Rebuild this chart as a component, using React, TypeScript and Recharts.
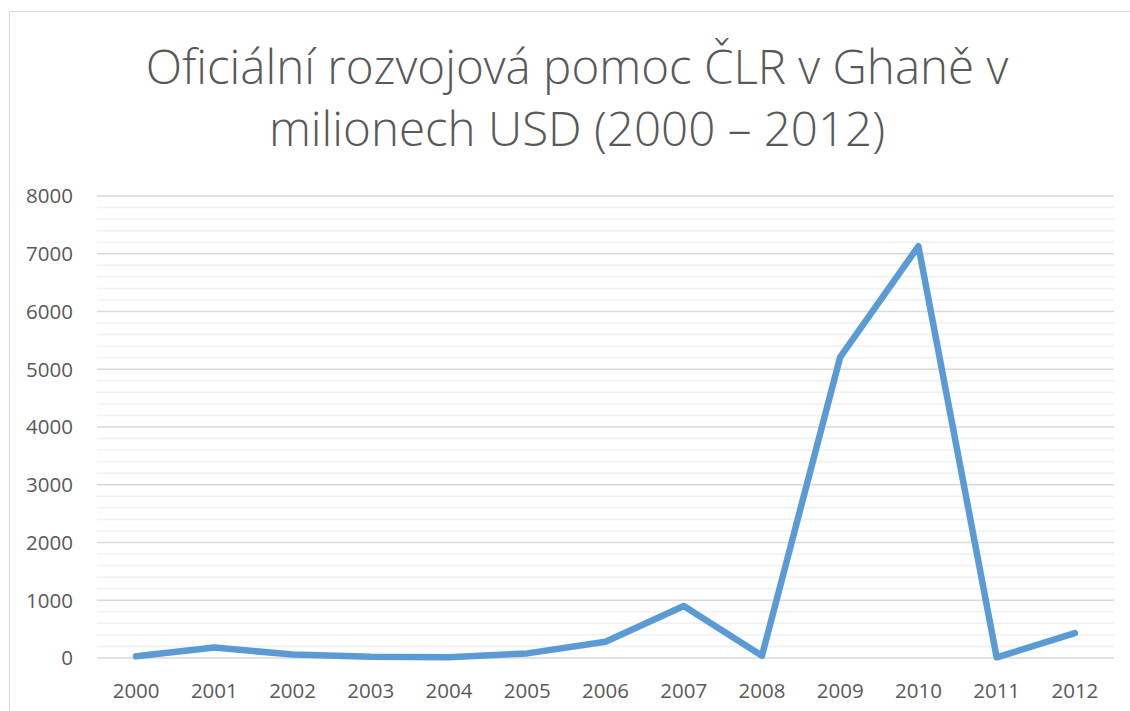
import React from 'react';
import { LineChart, Line, XAxis, YAxis, CartesianGrid, ReferenceLine } from 'recharts';

const years = ['2000', '2001', '2002', '2003', '2004', '2005', '2006', '2007', '2008', '2009', '2010', '2011', '2012'];
const aid = [30, 180, 60, 20, 15, 80, 280, 900, 40, 5210, 7130, 10, 430];
const majorTicks = [0, 1000, 2000, 3000, 4000, 5000, 6000, 7000, 8000];
const minorTicks = [200, 400, 600, 800, 1200, 1400, 1600, 1800, 2200, 2400, 2600, 2800, 3200, 3400, 3600, 3800, 4200, 4400, 4600, 4800, 5200, 5400, 5600, 5800, 6200, 6400, 6600, 6800, 7200, 7400, 7600, 7800];
const titleLines = ['Oficiální rozvojová pomoc ČLR v Ghaně v', 'milionech USD (2000 – 2012)'];

const data = years.map((y, i) => ({ year: y, value: aid[i] }));

const tickStyle = { fill: '#595959', fontSize: 20.5, fontFamily: '"Open Sans", sans-serif' };

export default function App() {
  return (
    <div style={{ position: 'absolute', left: 0, top: 0, width: 1130, height: 711, overflow: 'hidden', background: '#fff' }}>
      <div style={{ position: 'absolute', left: 9, top: 11, width: 1200, height: 800, border: '1.5px solid #d9d9d9', boxSizing: 'border-box' }} />
      <div style={{ position: 'absolute', left: 77, top: 35, width: 1000, textAlign: 'center', fontFamily: '"Open Sans", sans-serif', fontWeight: 300, fontSize: 47.5, lineHeight: '62px', color: '#595959' }}>
        {titleLines.map((t) => (
          <div key={t}>{t}</div>
        ))}
      </div>
      <div style={{ position: 'absolute', left: 0, top: 0 }}>
        <LineChart width={1130} height={711} data={data} margin={{ top: 196, right: 16, bottom: 23, left: 37 }}>
          <CartesianGrid horizontal={true} vertical={false} stroke="#d9d9d9" strokeWidth={1.5} />
          {minorTicks.map((v) => (
            <ReferenceLine key={v} y={v} stroke="#f0f0f0" strokeWidth={1.5} ifOverflow="extendDomain" />
          ))}
          <XAxis dataKey="year" scale="band" axisLine={false} tickLine={false} tickMargin={19} height={30} tick={tickStyle} interval={0} />
          <YAxis domain={[0, 8000]} ticks={majorTicks} axisLine={false} tickLine={false} tickMargin={18} width={60} tick={tickStyle} interval={0} />
          <Line type="linear" dataKey="value" stroke="#5b9bd5" strokeWidth={6.5} dot={false} strokeLinecap="round" strokeLinejoin="round" isAnimationActive={false} />
        </LineChart>
      </div>
    </div>
  );
}
